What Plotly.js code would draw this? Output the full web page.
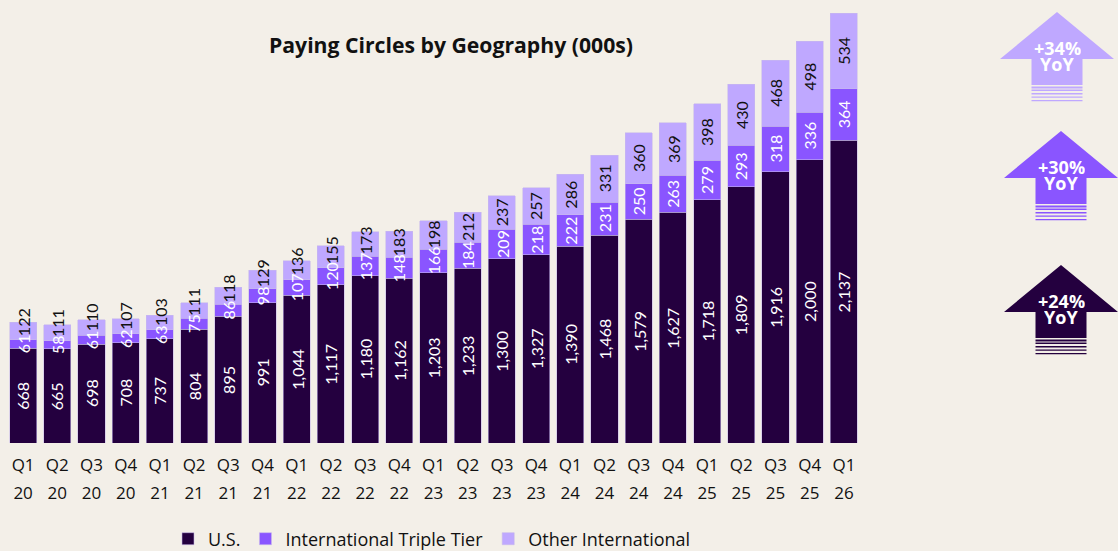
<!DOCTYPE html>
<html>
<head>
<meta charset="utf-8">
<script src="https://cdn.plot.ly/plotly-3.0.1.min.js"></script>
<style>
  html, body { margin: 0; padding: 0; background: #F3EFE8; }
  #chart { width: 1118px; height: 551px; }
</style>
</head>
<body>
<div id="chart"></div>
<script>
const quarters = ['Q1 20', 'Q2 20', 'Q3 20', 'Q4 20', 'Q1 21', 'Q2 21', 'Q3 21', 'Q4 21',
    'Q1 22', 'Q2 22', 'Q3 22', 'Q4 22', 'Q1 23', 'Q2 23', 'Q3 23', 'Q4 23',
    'Q1 24', 'Q2 24', 'Q3 24', 'Q4 24', 'Q1 25', 'Q2 25', 'Q3 25', 'Q4 25', 'Q1 26'];
const us = [668, 665, 698, 708, 737, 804, 895, 991, 1044, 1117, 1180, 1162, 1203, 1233,
    1300, 1327, 1390, 1468, 1579, 1627, 1718, 1809, 1916, 2000, 2137];
const tripleTier = [61, 58, 61, 62, 63, 75, 86, 98, 107, 120, 137, 148, 166, 184,
    209, 218, 222, 231, 250, 263, 279, 293, 318, 336, 364];
const otherIntl = [122, 111, 110, 107, 103, 111, 118, 129, 136, 155, 173, 183, 198, 212,
    237, 257, 286, 331, 360, 369, 398, 430, 468, 498, 534];
const yoyLabels = ['+34%', '+30%', '+24%'];

const W = 1118, H = 551;
const M = { l: 6, r: 257, t: 13, b: 108 };
const PW = W - M.l - M.r, PH = H - M.t - M.b;
const YMAX = 3035;
const FONT = '"Open Sans", Lato, sans-serif';
const NUMFONT = 'Lato, "Open Sans", sans-serif';
const C_US = '#24003F', C_TT = '#8A55FF', C_OI = '#BFA8FF';

// pixel -> paper helpers for the decorative arrows
const px = x => (x - M.l) / PW;
const py = y => (H - M.b - y) / PH;

function barTrace(name, vals, color) {
    return {
        type: 'bar',
        name: name,
        x: quarters,
        y: vals,
        cliponaxis: false,
        marker: { color: color, line: { color: 'rgba(200,185,235,0.7)', width: 0.8 } },
        hoverinfo: 'skip'
    };
}

const data = [
    barTrace('U.S.', us, C_US),
    barTrace('International Triple Tier', tripleTier, C_TT),
    barTrace('Other International', otherIntl, C_OI),
    // carries the second row of tick labels (years)
    { type: 'scatter', x: [0], y: [0], xaxis: 'x2', mode: 'none',
      showlegend: false, hoverinfo: 'skip' }
];

// segment labels are drawn as annotations so they sit above every bar
const annotations = [];
const unitPerPx = YMAX / PH;
const charPx = 8;
function segLabel(q, y, text, color) {
    annotations.push({
        xref: 'x', yref: 'y', x: q, y: y,
        text: text, textangle: -90, showarrow: false,
        xanchor: 'center', yanchor: 'middle',
        font: { family: NUMFONT, size: 16, color: color }
    });
}
quarters.forEach((q, i) => {
    segLabel(q, us[i] / 2, us[i].toLocaleString('en-US'), '#ffffff');
    const ttMid = us[i] + tripleTier[i] / 2;
    segLabel(q, ttMid, String(tripleTier[i]), '#ffffff');
    // nudge the top label up when the triple tier label would run into it
    const ttHalf = String(tripleTier[i]).length * charPx / 2;
    const oHalf = String(otherIntl[i]).length * charPx / 2;
    const segMid = us[i] + tripleTier[i] + otherIntl[i] / 2;
    const minMid = ttMid + (ttHalf + oHalf + 2) * unitPerPx;
    segLabel(q, Math.max(segMid, minMid), String(otherIntl[i]), '#111111');
});

// arrows on the right: centre x, tip y, colour
const arrows = [
    { cx: 1057, tip: 12, color: C_OI },
    { cx: 1061, tip: 131, color: C_TT },
    { cx: 1061, tip: 265, color: C_US }
];

const shapes = [];
arrows.forEach((a, i) => {
    const headH = 47, headW = 57, shaftW = 25.5, shaftH = 26;
    const base = a.tip + headH;
    const path = 'M ' + px(a.cx) + ',' + py(a.tip) +
        ' L ' + px(a.cx + headW) + ',' + py(base) +
        ' L ' + px(a.cx + shaftW) + ',' + py(base) +
        ' L ' + px(a.cx + shaftW) + ',' + py(base + shaftH) +
        ' L ' + px(a.cx - shaftW) + ',' + py(base + shaftH) +
        ' L ' + px(a.cx - shaftW) + ',' + py(base) +
        ' L ' + px(a.cx - headW) + ',' + py(base) + ' Z';
    shapes.push({ type: 'path', xref: 'paper', yref: 'paper', path: path,
        fillcolor: a.color, line: { width: 0 } });
    // fading stripes under the shaft
    const gaps = [1.5, 4.5, 8, 11.5, 15];
    const thick = [2, 1.6, 1.4, 1.2, 1.2];
    gaps.forEach((g, k) => {
        const y0 = base + shaftH + g;
        shapes.push({ type: 'rect', xref: 'paper', yref: 'paper',
            x0: px(a.cx - shaftW), x1: px(a.cx + shaftW),
            y0: py(y0), y1: py(y0 + thick[k]),
            fillcolor: a.color, line: { width: 0 } });
    });
    // two tight lines; explicit box height keeps the boxes from overlapping
    annotations.push({ xref: 'paper', yref: 'paper', x: px(a.cx), y: py(a.tip + 36),
        xanchor: 'center', yanchor: 'middle', height: 16,
        text: '<b>' + yoyLabels[i] + '</b>', showarrow: false,
        font: { family: FONT, size: 18, color: '#ffffff' } });
    annotations.push({ xref: 'paper', yref: 'paper', x: px(a.cx), y: py(a.tip + 52),
        xanchor: 'center', yanchor: 'middle', height: 16,
        text: '<b>YoY</b>', showarrow: false,
        font: { family: FONT, size: 18, color: '#ffffff' } });
});

const layout = {
    width: W,
    height: H,
    margin: M,
    paper_bgcolor: '#F3EFE8',
    plot_bgcolor: '#F3EFE8',
    barmode: 'stack',
    bargap: 0.21,
    font: { family: FONT, color: '#111111' },
    title: {
        text: '<b>Paying Circles by Geography (000s)</b>',
        x: 451 / W,
        xanchor: 'center',
        y: 1 - 46 / H,
        yanchor: 'middle',
        font: { family: FONT, size: 21.2, color: '#111111' }
    },
    xaxis: {
        range: [-0.5, quarters.length - 0.5],
        tickvals: quarters,
        ticktext: quarters.map(q => q.split(' ')[0]),
        tickfont: { family: FONT, size: 17, color: '#111111' },
        ticks: '',
        showline: false,
        showgrid: false,
        zeroline: false,
        ticklabelstandoff: 10
    },
    xaxis2: {
        overlaying: 'x',
        anchor: 'y',
        side: 'bottom',
        range: [-0.5, quarters.length - 0.5],
        tickvals: quarters.map((q, i) => i),
        ticktext: quarters.map(q => q.split(' ')[1]),
        tickfont: { family: FONT, size: 17, color: '#111111' },
        ticks: '',
        showline: false,
        showgrid: false,
        zeroline: false,
        ticklabelstandoff: 38
    },
    yaxis: {
        range: [0, YMAX],
        visible: false,
        showgrid: false,
        zeroline: false
    },
    showlegend: true,
    legend: {
        orientation: 'h',
        traceorder: 'normal',
        xref: 'container',
        yref: 'container',
        x: 168 / W,
        xanchor: 'left',
        y: 1 - 539 / H,
        yanchor: 'middle',
        bgcolor: 'rgba(0,0,0,0)',
        font: { family: FONT, size: 18, color: '#111111' }
    },
    shapes: shapes,
    annotations: annotations
};

Plotly.newPlot('chart', data, layout, { displayModeBar: false, staticPlot: true });
</script>
</body>
</html>
